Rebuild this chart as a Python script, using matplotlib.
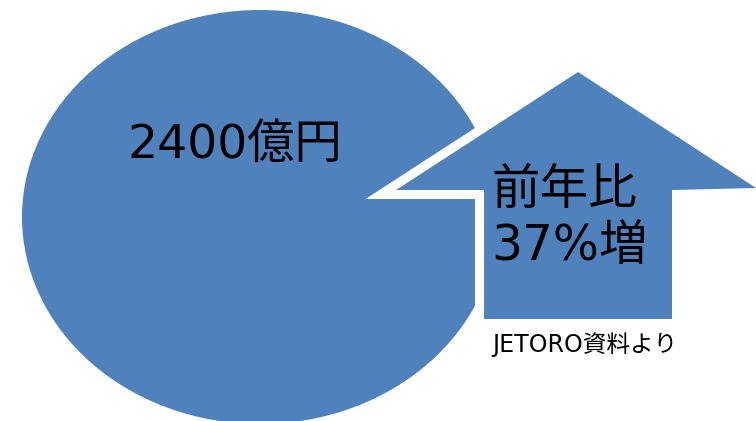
import matplotlib
matplotlib.use("Agg")
import matplotlib.pyplot as plt
from matplotlib.patches import Ellipse, Polygon

# Verdana-like Latin glyphs with Japanese fallback
plt.rcParams['font.family'] = ['DejaVu Sans', 'Noto Sans CJK JP']

# Figure content
market_label = "2400億円"
growth_lines = ["前年比", "37%増"]
source_note = "JETORO資料より"

FILL = "#4F81BD"
W, H = 756, 421

fig = plt.figure(figsize=(W / 100, H / 100), dpi=100)
ax = fig.add_axes([0, 0, 1, 1])
ax.set_xlim(0, W)
ax.set_ylim(H, 0)
ax.axis("off")

# Market size disc (runs off the bottom edge)
ax.add_patch(Ellipse((260, 217), 476, 414, facecolor=FILL, edgecolor="none", zorder=1))

# Upward growth arrow with a white rim outside its fill
arrow_pts = [(578, 72), (756, 188), (672, 190), (672, 319),
             (484, 319), (484, 190), (396, 190)]
ax.add_patch(Polygon(arrow_pts, closed=True, facecolor="white", edgecolor="white",
                     linewidth=13, joinstyle="miter", zorder=2))
ax.add_patch(Polygon(arrow_pts, closed=True, facecolor=FILL, edgecolor="none", zorder=3))

ax.text(235, 145, market_label, fontsize=34, ha="center", va="center", color="black", zorder=4)
ax.text(491, 190, growth_lines[0], fontsize=35, ha="left", va="center", color="black", zorder=4)
ax.text(491, 246, growth_lines[1], fontsize=35, ha="left", va="center", color="black", zorder=4)
ax.text(492, 345, source_note, fontsize=17, ha="left", va="center", color="black", zorder=4)

fig.savefig("out.png", dpi=100)
